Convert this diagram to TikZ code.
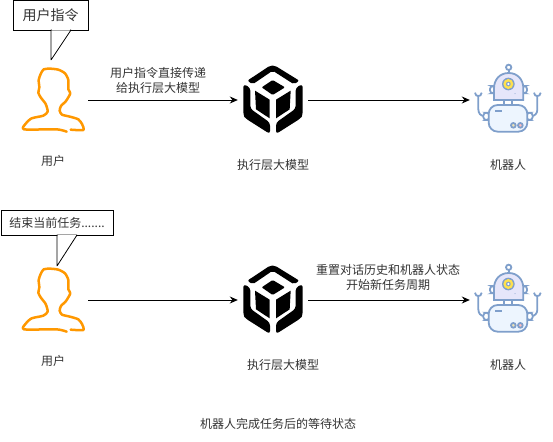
\documentclass[tikz,border=0pt]{standalone}
\usepackage{fontspec}
\setmainfont{Noto Sans CJK SC}
\usepackage{xcolor}
\usetikzlibrary{positioning, arrows.meta}
\definecolor{cUser}{HTML}{FF9800}
\definecolor{cBot}{HTML}{7F9FCB}
\definecolor{cHead}{HTML}{E6E6FA}
\definecolor{cBody}{HTML}{EDF5FE}
\definecolor{cEye}{HTML}{FFE14D}
\definecolor{cText}{HTML}{333333}
\tikzset{
  anchorbox/.style={rectangle, minimum width=#1, minimum height=70pt, inner sep=0pt},
  caption/.style={font=\fontsize{12pt}{15pt}\selectfont, text=cText, inner sep=0pt, align=center},
  bubble/.style={rectangle, draw=black, fill=white, line width=0.8pt, inner sep=0pt,
    text=cText, font=\fontsize{#1}{16pt}\selectfont},
  tail/.style={draw=black, fill=white, line width=0.8pt, line join=bevel},
  arrow/.style={-{Stealth[length=8pt,width=7pt]}, line width=0.9pt, color=black},
  botline/.style={draw=cBot, line width=1.8pt},
  usericon/.pic={
    \draw[cUser, line width=2.5pt, line cap=round, line join=round]
      plot[smooth, tension=0.4] coordinates {(200,395) (170,388) (72,388) (78,370) (95,355) (130,347) (143,335) (137,312) (122,292) (115,278) (118,262) (116,240) (122,222) (131,208) (150,206)
      (175,209) (195,220) (205,240) (205,268) (211,280) (198,303) (183,318) (179,332) (186,344) (210,350) (235,358) (246,372) (250,390) (212,389)};
  },
  cubeicon/.pic={
    \fill[black, rounded corners=2pt] (82,92) -- (150,47) -- (165,47) -- (238,92) -- (222,103) -- (158,62) -- (98,103) -- cycle;
    \fill[black, rounded corners=1pt] (158,90) -- (125,112) -- (158,135) -- (195,112) -- cycle;
    \fill[black] (105,122) -- (149,149) -- (149,205) -- (108,178) -- cycle;
    \fill[black] (212,122) -- (168,149) -- (168,205) -- (209,178) -- cycle;
    \fill[black, rounded corners=3pt] (70,102) -- (91,113) -- (91,176) -- (150,218) -- (150,252) -- (76,205) -- (70,195) -- cycle;
    \fill[black, rounded corners=3pt] (248,102) -- (227,113) -- (227,176) -- (168,218) -- (168,252) -- (242,205) -- (248,195) -- cycle;
  },
  roboticon/.pic={
    \draw[botline] (146,30) -- (146,40);
    \draw[botline, fill=white] (146,22) circle (8);
    \draw[botline, fill=white, rounded corners=3pt] (90,78) rectangle (104,100);
    \draw[botline, fill=white, rounded corners=3pt] (187,78) rectangle (201,100);
    \draw[botline, fill=cHead] (102,120) -- (102,85) .. controls (102,58) and (120,39) .. (146,39) .. controls (172,39) and (190,58) .. (190,85) -- (190,120) -- cycle;
    \draw[botline, fill=white] (132,120) rectangle (156,136);
    \fill[cBot] (145,72) circle (19);
    \fill[cEye] (145,72) circle (15);
    \fill[cBot] (145,72) circle (7);
    \fill[white] (145,72) circle (4);
    \fill[cBot] (165,101) circle (1.5);
    % arms
    \draw[botline] (55,108) -- (55,148) .. controls (55,160) and (62,168) .. (72,168);
    \draw[botline] (45,98) .. controls (46,106) and (50,108) .. (55,108) .. controls (60,108) and (64,106) .. (65,98);
    \draw[botline] (232,108) -- (232,148) .. controls (232,160) and (225,168) .. (215,168);
    \draw[botline] (222,98) .. controls (223,106) and (227,108) .. (232,108) .. controls (237,108) and (241,106) .. (242,98);
    \draw[botline, fill=white, rounded corners=3pt] (70,158) rectangle (88,180);
    \draw[botline, fill=white, rounded corners=3pt] (200,158) rectangle (218,180);
    \draw[botline, fill=cBody, rounded corners=9pt] (86,135) rectangle (202,215);
    \draw[botline] (105,152) -- (125,152);
    \draw[botline, fill=cHead!60!cEye] (160,196) circle (7);
    \draw[botline, fill=red!25] (181,196) circle (7);
  },
}
\begin{document}
\begin{tikzpicture}[x=1pt, y=-1pt]
  \useasboundingbox (0,0) rectangle (553,441);

  % first row
  \node[anchorbox=70pt] (user1) at (53,100) {};
  \node[anchorbox=70pt] (model1) at (273,100) {};
  \node[anchorbox=76pt] (robot1) at (508,100) {};
  \pic[scale=1/3] at (0,0) {usericon};
  \pic[scale=1/3] at (220,50) {cubeicon};
  \pic[scale=1/3] at (460,60) {roboticon};

  \node[caption] (userlabel1) at (53,161) {用户};
  \node[caption] (modellabel1) at (273,165) {执行层大模型};
  \node[caption] (robotlabel1) at (508,165) {机器人};
  \node[caption] (directlabel) at (158,80) {用户指令直接传递\\给执行层大模型};

  \draw[arrow] (user1) -- (model1);
  \draw[arrow] (model1) -- (robot1);

  \coordinate (tailtip1) at (51,60);
  \node[bubble=14pt, minimum width=75pt, minimum height=30pt] (bubble1) at (50.5,15) {用户指令};
  \draw[tail] (51,30) -- (tailtip1) -- (71,30) -- cycle;
  \draw[white, line width=1pt] (51.6,30) -- (70.4,30);

  % second row
  \node[anchorbox=70pt] (user2) at (53,300) {};
  \node[anchorbox=70pt] (model2) at (273,300) {};
  \node[anchorbox=76pt] (robot2) at (508,300) {};
  \pic[scale=1/3] at (0,200) {usericon};
  \pic[scale=1/3] at (220,250) {cubeicon};
  \pic[scale=1/3] at (460,260) {roboticon};

  \node[caption] (userlabel2) at (53,361) {用户};
  \node[caption] (modellabel2) at (283,365) {执行层大模型};
  \node[caption] (robotlabel2) at (508,365) {机器人};
  \node[caption] (resetlabel) at (388,277) {重置对话历史和机器人状态\\开始新任务周期};

  \draw[arrow] (user2) -- (model2);
  \draw[arrow] (model2) -- (robot2);

  \coordinate (tailtip2) at (57,266);
  \node[bubble=12pt, minimum width=112pt, minimum height=25pt] (bubble2) at (57,222.5) {结束当前任务.......};
  \draw[tail] (57,235) -- (tailtip2) -- (77,235) -- cycle;
  \draw[white, line width=1pt] (57.6,235) -- (76.4,235);

  \node[caption] (waitlabel) at (278,424) {机器人完成任务后的等待状态};

\end{tikzpicture}
\end{document}
